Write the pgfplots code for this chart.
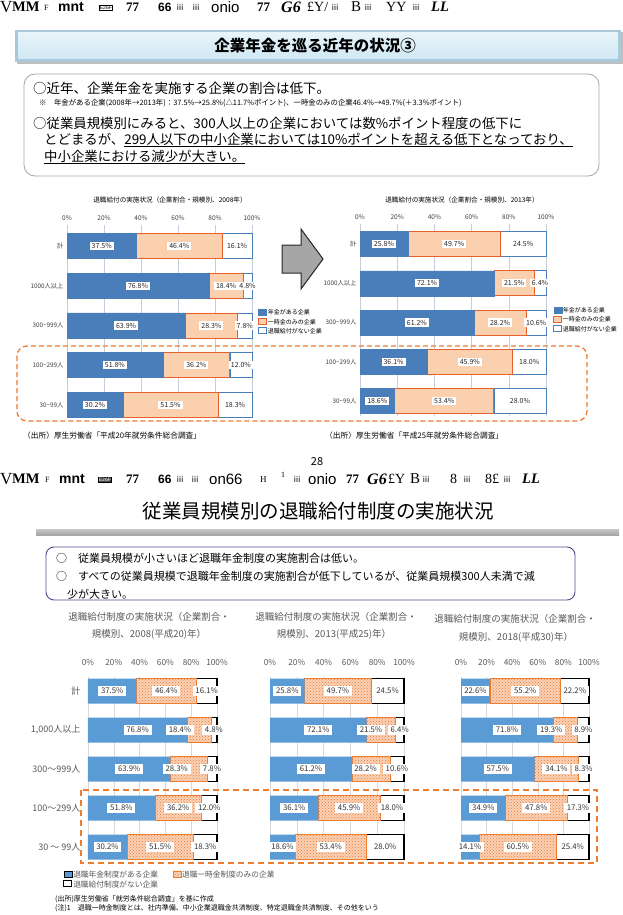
\documentclass[border=0pt]{standalone}
\usepackage{pgfplots}
\pgfplotsset{compat=1.18}
\usepackage{pgfplotstable}
\usetikzlibrary{patterns}
\usepackage{fontspec}
\setmainfont{Noto Sans CJK JP}
\newfontfamily\lserif{Liberation Serif}
\newfontfamily\lsans{Liberation Sans}
\newcommand\fs[1]{\fontsize{#1}{#1}\selectfont}

\definecolor{tblue}{HTML}{4A7EBB}
\definecolor{peach}{HTML}{FAD0AE}
\definecolor{tor}{HTML}{E8602C}
\definecolor{bblue}{HTML}{5B9BD5}
\definecolor{bor}{HTML}{ED7D31}
\definecolor{tgrid}{HTML}{C5CEDB}
\definecolor{bgrid}{HTML}{D9D9D9}
\definecolor{txtg}{HTML}{595959}
\definecolor{bannerEdge}{HTML}{A9C8DA}
\definecolor{bannerTop}{HTML}{E8F4FA}
\definecolor{bannerBot}{HTML}{D0E8F4}

% shares of companies by size class: a = pension, b = lump sum only, c = none
% sb = sideways nudge (in %) of the lump-sum label in the lower charts
\pgfplotstableread{
row a b c sb
4 37.5 46.4 16.1 0
3 76.8 18.4 4.8 -14.7
2 63.9 28.3 7.8 -9.3
1 51.8 36.2 12.0 0
0 30.2 51.5 18.3 0
}\yrA
\pgfplotstableread{
row a b c sb
4 25.8 49.7 24.5 0
3 72.1 21.5 6.4 -7.5
2 61.2 28.2 10.6 -4
1 36.1 45.9 18.0 0
0 18.6 53.4 28.0 0
}\yrB
\pgfplotstableread{
row a b c sb
4 22.6 55.2 22.2 0
3 71.8 19.3 8.9 -11
2 57.5 34.1 8.3 0
1 34.9 47.8 17.3 0
0 14.1 60.5 25.4 0
}\yrC

% segment midpoints, where the value labels sit
\newcommand\midcols[1]{%
  \pgfplotstablecreatecol[expr={\thisrow{a}/2}]{ma}{#1}%
  \pgfplotstablecreatecol[expr={\thisrow{a}+\thisrow{b}/2}]{mb}{#1}%
  \pgfplotstablecreatecol[expr={\thisrow{a}+\thisrow{b}/2+\thisrow{sb}}]{mbs}{#1}%
  \pgfplotstablecreatecol[expr={\thisrow{a}+\thisrow{b}+\thisrow{c}/2}]{mc}{#1}}
\midcols\yrA \midcols\yrB \midcols\yrC

\pgfplotsset{
  /pgfplots/xbar legend/.style={/pgfplots/legend image code/.code={\draw[##1,line width=0.5pt] (0pt,-2pt) rectangle (4pt,2pt);}},
  hb/.style={scale only axis, xbar stacked, xmin=0, xmax=100, clip=false,
    ytick={0,...,4}, xtick={0,20,...,100},
    axis line style={draw=none}, tick style={draw=none},
    xticklabel pos=upper, xticklabel={\pgfmathprintnumber{\tick}\%},
    /pgf/number format/assume math mode=true, xmajorgrids},
  hl/.style={scale only axis, xmin=0, xmax=100, clip=false, hide axis},
  lab/.style={only marks, mark=none, point meta=explicit,
    nodes near coords={\pgfmathprintnumber[fixed,fixed zerofill,precision=1,assume math mode=true]{\pgfplotspointmeta}\%},
    nodes near coords align={center}},
  toplab/.style={every node near coord/.append style={font=\fs{7}, fill=white, inner xsep=2pt, inner ysep=1.5pt, text=black!85, anchor=center}},
  botlab/.style={every node near coord/.append style={font=\fs{7.8}, fill=white, inner xsep=2.8pt, inner ysep=2pt, text=black!80, anchor=center}},
  geoT1/.style={at={(67pt,-225pt)}, anchor=north west, width=185pt, height=193pt, ymin=-0.33, ymax=4.53, bar width=25pt},
  geoT2/.style={at={(360pt,-224pt)}, anchor=north west, width=186pt, height=192pt, ymin=-0.38, ymax=4.51, bar width=25pt},
  geoB1/.style={at={(88pt,-677pt)}, anchor=north west, width=129pt, height=183pt, ymin=-0.33, ymax=4.36, bar width=25pt},
  geoB2/.style={at={(270pt,-677pt)}, anchor=north west, width=134pt, height=183pt, ymin=-0.33, ymax=4.36, bar width=25pt},
  geoB3/.style={at={(461pt,-677pt)}, anchor=north west, width=128pt, height=183pt, ymin=-0.33, ymax=4.36, bar width=25pt},
  topstyle/.style={major grid style={tgrid, line width=0.6pt},
    xticklabel style={font=\fs{6.5}, text=black!75, yshift=1pt},
    yticklabel style={font=\fs{6.3}, text=black!75},
    legend style={draw=none, fill=none, font=\fs{6}, inner sep=0pt, row sep=0.6pt,
      nodes={inner sep=0.8pt}},
    legend cell align=left},
  botstyle/.style={major grid style={bgrid, line width=0.6pt},
    xticklabel style={font=\fs{8.3}, text=txtg, yshift=8pt},
    yticklabel style={font=\fs{9}, text=txtg},
    ytick={0,...,4}},
  pA/.style={fill=tblue, draw=tblue},
  pB/.style={fill=peach, draw=tor, line width=0.9pt},
  pC/.style={fill=white, draw=tblue, line width=0.6pt},
  qA/.style={fill=bblue, draw=none},
  qB/.style={fill=bor!35, draw=bor, line width=0.5pt, postaction={pattern=crosshatch dots, pattern color=bor}},
  qC/.style={fill=white, draw=black, line width=1.3pt},
}

\newcommand\g[3]{\node[anchor=west,inner sep=0pt] at (#1,#2) {#3};}

\begin{document}
\begin{tikzpicture}
\useasboundingbox (0,0) rectangle (623pt,-915pt);
\fill[white] (0,0) rectangle (623pt,-915pt);

\begin{scope}[x=1pt,y=-1pt]
% running header, upper slide
\g{0}{7}{\lserif\fs{17}V}
\g{12}{7}{\lserif\bfseries\fs{14.5}MM}
\g{44}{8}{\lserif\fs{8}F}
\g{58}{7}{\lsans\bfseries\fs{14}mnt}
\node[draw,anchor=west,inner sep=0.7pt,font=\lsans\fs{5}] at (99,8) {E26F};
\g{126}{7}{\lserif\bfseries\fs{13}77}
\g{158}{7}{\lsans\bfseries\fs{12}66}
\g{176}{7}{\fs{8}ⅲ}
\g{192}{7}{\fs{8}ⅲ}
\g{211}{7}{\lsans\fs{15}onio}
\g{257}{7}{\lserif\bfseries\fs{13}77}
\g{281}{7}{\lserif\bfseries\itshape\fs{16}G6}
\g{307}{7}{\lserif\fs{14}£Y/}
\g{331}{7}{\fs{8}ⅲ}
\g{351}{7}{\lserif\fs{15}B}
\g{364}{7}{\fs{8}ⅲ}
\g{386}{7}{\lserif\fs{14}YY}
\g{412}{7}{\fs{8}ⅲ}
\g{431}{7}{\lserif\bfseries\itshape\fs{14.5}LL}

% title banner
\fill[black!25] (17,32) rectangle (623,64);
\fill[bannerEdge] (15,30) rectangle (621,62);
\shade[top color=bannerTop, bottom color=bannerBot] (18,33) rectangle (618,59);
\node at (315,46) {\bfseries\fs{15.5}企業年金を巡る近年の状況③};

% summary box
\draw[rounded corners=11pt, draw=black!35, line width=0.8pt] (24,74) rectangle (599,176);
\node[anchor=west,inner sep=0pt] at (33,88) {\fs{13.5}○近年、企業年金を実施する企業の割合は低下。};
\node[anchor=west,inner sep=0pt] at (39,103) {\fs{7.4}※　年金がある企業(2008年→2013年)：37.5\%→25.8\%(△11.7\%ポイント)、一時金のみの企業46.4\%→49.7\%(＋3.3\%ポイント)};
\node[anchor=west,inner sep=0pt] at (33,123) {\fs{13.4}○従業員規模別にみると、300人以上の企業においては数\%ポイント程度の低下に};
\node[anchor=west,inner sep=0pt] at (44,140) {\fs{13.4}とどまるが、\underline{299人以下の中小企業においては10\%ポイントを超える低下となっており、}};
\node[anchor=west,inner sep=0pt] at (44,157) {\fs{13.4}\underline{中小企業における減少が大きい。}};

% chart titles and sources, upper slide
\node at (170,200) {\fs{6.6}退職給付の実施状況（企業割合・規模別、2008年）};
\node at (462,200) {\fs{6.6}退職給付の実施状況（企業割合・規模別、2013年）};
\node[anchor=west,inner sep=0pt] at (23,436) {\fs{7.7}（出所）厚生労働省「平成20年就労条件総合調査」};
\node[anchor=west,inner sep=0pt] at (325,436) {\fs{7.7}（出所）厚生労働省「平成25年就労条件総合調査」};

% arrow between the two years
\draw[fill=black!35, draw=black!85, line width=1pt] (282,245) -- (301,245) -- (301,229) -- (323,259) -- (301,289) -- (301,273) -- (282,273) -- cycle;

\node at (317,462) {\fs{11}28};

% running header, lower slide
\g{0}{479}{\lserif\fs{17}V}
\g{12}{479}{\lserif\bfseries\fs{14.5}MM}
\g{45}{480}{\lserif\fs{8}F}
\g{59}{479}{\lsans\bfseries\fs{14}mnt}
\node[draw,fill=black!70,text=white,anchor=west,inner sep=0.7pt,font=\lsans\fs{5}] at (98,480) {E26F};
\g{126}{479}{\lserif\bfseries\fs{13}77}
\g{158}{479}{\lsans\bfseries\fs{12}66}
\g{176}{479}{\fs{8}ⅲ}
\g{191}{479}{\fs{8}ⅲ}
\g{209}{479}{\lsans\fs{15}on66}
\g{260}{480}{\lserif\fs{9}H}
\g{281}{475}{\lserif\fs{8}1}
\g{293}{479}{\fs{8}ⅲ}
\g{308}{479}{\lsans\fs{15}onio}
\g{346}{479}{\lserif\bfseries\fs{13}77}
\g{367}{479}{\lserif\bfseries\itshape\fs{16}G6}
\g{388}{479}{\lserif\fs{14}£Y}
\g{410}{479}{\lserif\fs{15}B}
\g{422}{479}{\fs{8}ⅲ}
\g{450}{479}{\lserif\fs{14}8}
\g{463}{479}{\fs{8}ⅲ}
\g{485}{479}{\lserif\fs{14}8£}
\g{503}{479}{\fs{8}ⅲ}
\g{522}{479}{\lserif\bfseries\itshape\fs{14.5}LL}

% lower slide title and box
\node at (318,511) {\fs{19.5}従業員規模別の退職給付制度の実施状況};
\shade[top color=black!22, bottom color=black!35] (36,529) rectangle (619,535);
\draw[rounded corners=8pt, draw=black!65!blue!70, line width=0.9pt] (46,547) rectangle (575,600);
\node[anchor=west,inner sep=0pt] at (56,558) {\fs{11}○　従業員規模が小さいほど退職年金制度の実施割合は低い。};
\node[anchor=west,inner sep=0pt] at (56,576) {\fs{11}○　すべての従業員規模で退職年金制度の実施割合が低下しているが、従業員規模300人未満で減};
\node[anchor=west,inner sep=0pt] at (67,594) {\fs{11}少が大きい。};

% lower chart titles
\begin{scope}[every node/.style={text=txtg, font=\fs{9.5}}]
\node at (149,617) {退職給付制度の実施状況（企業割合・};
\node at (149,634) {規模別、2008(平成20)年）};
\node at (336,617) {退職給付制度の実施状況（企業割合・};
\node at (334,634) {規模別、2013(平成25)年）};
\node at (515,619) {退職給付制度の実施状況（企業割合・};
\node at (516,637) {規模別、2018(平成30)年）};
\end{scope}

% footer notes
\node[anchor=west,inner sep=0pt] at (55,899) {\fs{7}(出所)厚生労働省「就労条件総合調査」を基に作成};
\node[anchor=west,inner sep=0pt] at (55,908) {\fs{7}(注)1　退職一時金制度とは、社内準備、中小企業退職金共済制度、特定退職金共済制度、その他をいう};
\end{scope}

% ---------- upper slide, 2008 ----------
\begin{axis}[hb, geoT1, topstyle,
  yticklabels={30\textasciitilde99人,100\textasciitilde299人,300\textasciitilde999人,1000人以上,計},
  legend style={at={(1.032,0.497)}, anchor=west}]
\addplot[pA] table[x=a,y=row]{\yrA};
\addplot[pB] table[x=b,y=row]{\yrA};
\addplot[pC] table[x=c,y=row]{\yrA};
\legend{年金がある企業,一時金のみの企業,退職給付がない企業}
\end{axis}
\begin{axis}[hl, geoT1, toplab]
\addplot[lab] table[x=ma,y=row,meta=a]{\yrA};
\addplot[lab] table[x=mb,y=row,meta=b]{\yrA};
\addplot[lab] table[x=mc,y=row,meta=c]{\yrA};
\end{axis}

% ---------- upper slide, 2013 ----------
\begin{axis}[hb, geoT2, topstyle,
  yticklabels={30\textasciitilde99人,100\textasciitilde299人,300\textasciitilde999人,1000人以上,計},
  legend style={at={(1.038,0.5)}, anchor=west}]
\addplot[pA] table[x=a,y=row]{\yrB};
\addplot[pB] table[x=b,y=row]{\yrB};
\addplot[pC] table[x=c,y=row]{\yrB};
\legend{年金がある企業,一時金のみの企業,退職給付がない企業}
\end{axis}
\begin{axis}[hl, geoT2, toplab]
\addplot[lab] table[x=ma,y=row,meta=a]{\yrB};
\addplot[lab] table[x=mb,y=row,meta=b]{\yrB};
\addplot[lab] table[x=mc,y=row,meta=c]{\yrB};
\end{axis}

% ---------- lower slide, 2008 ----------
\begin{axis}[hb, geoB1, botstyle,
  yticklabels={{30 ～ 99人},{100～299人},{300～999人},{1,000人以上},{計}},
  yticklabel style={xshift=-4pt},
  legend columns=2,
  legend style={at={(-0.194,-0.055)}, anchor=north west, draw=none, fill=none,
    font=\fs{7.7}, text=txtg, inner sep=0pt, row sep=0pt, nodes={inner sep=0.8pt},
    /tikz/every even column/.append style={column sep=14pt}},
  legend cell align=left]
\addplot[qA] table[x=a,y=row]{\yrA};
\addplot[qB] table[x=b,y=row]{\yrA};
\addplot[qC] table[x=c,y=row]{\yrA};
\legend{退職年金制度がある企業,退職一時金制度のみの企業,退職給付制度がない企業}
\end{axis}
\begin{axis}[hl, geoB1, botlab]
\addplot[lab] table[x=ma,y=row,meta=a]{\yrA};
\addplot[lab] table[x=mbs,y=row,meta=b]{\yrA};
\addplot[lab] table[x=mc,y=row,meta=c]{\yrA};
\end{axis}

% ---------- lower slide, 2013 ----------
\begin{axis}[hb, geoB2, botstyle, yticklabels={}]
\addplot[qA] table[x=a,y=row]{\yrB};
\addplot[qB] table[x=b,y=row]{\yrB};
\addplot[qC] table[x=c,y=row]{\yrB};
\end{axis}
\begin{axis}[hl, geoB2, botlab]
\addplot[lab] table[x=ma,y=row,meta=a]{\yrB};
\addplot[lab] table[x=mbs,y=row,meta=b]{\yrB};
\addplot[lab] table[x=mc,y=row,meta=c]{\yrB};
\end{axis}

% ---------- lower slide, 2018 ----------
\begin{axis}[hb, geoB3, botstyle, yticklabels={}]
\addplot[qA] table[x=a,y=row]{\yrC};
\addplot[qB] table[x=b,y=row]{\yrC};
\addplot[qC] table[x=c,y=row]{\yrC};
\end{axis}
\begin{axis}[hl, geoB3, botlab]
\addplot[lab] table[x=ma,y=row,meta=a]{\yrC};
\addplot[lab] table[x=mbs,y=row,meta=b]{\yrC};
\addplot[lab] table[x=mc,y=row,meta=c]{\yrC};
\end{axis}

% highlight of the small-company rows
\begin{scope}[x=1pt,y=-1pt]
\draw[bor, line width=1.3pt, dash pattern=on 5pt off 3pt, rounded corners=10pt] (17,346) rectangle (587,421);
\draw[bor, line width=1.4pt, dash pattern=on 6pt off 4pt] (81,790) rectangle (597,863);
\end{scope}
\end{tikzpicture}
\end{document}
